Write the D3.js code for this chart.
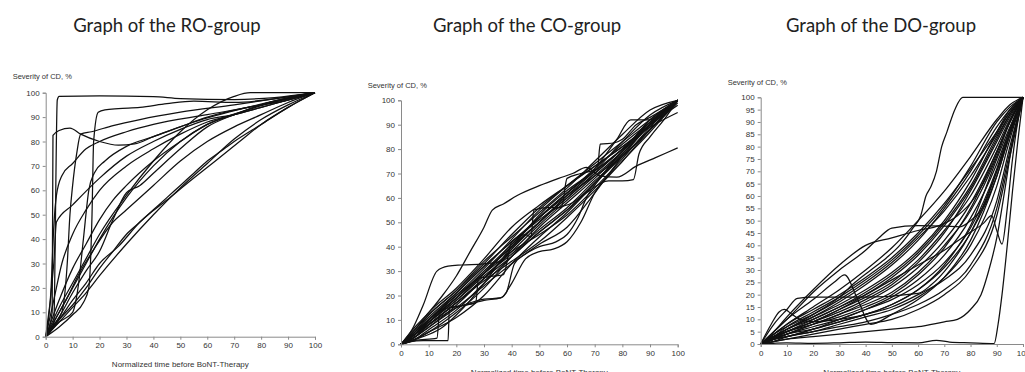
<!DOCTYPE html>
<html>
<head>
<meta charset="utf-8">
<script src="https://cdn.jsdelivr.net/npm/d3@7"></script>
<style>
html,body{margin:0;padding:0;background:#fff;}
svg{display:block;}
</style>
</head>
<body>
<svg id="chart" width="1025" height="372"></svg>
<script>
// ---------- DATA ----------
const titles = ["Graph of the RO-group", "Graph of the CO-group", "Graph of the DO-group"];
const yAxisTitle = "Severity of CD, %";
const xAxisTitle = "Normalized time before BoNT-Therapy";
const xTicks = [0,10,20,30,40,50,60,70,80,90,100];
const yTicksRO = [0,10,20,30,40,50,60,70,80,90,100];
const yTicksCO = [0,10,20,30,40,50,60,70,80,90,100];
const yTicksDO = [0,5,10,15,20,25,30,35,40,45,50,55,60,65,70,75,80,85,90,95,100];

// RO-group curves: [time, severity] pairs
const roSeries = [
  [[0,0],[3,5],[4.3,97],[5,98.5],[20,98.7],[40,98.4],[50,97.6],[70,97.2],[85,98],[100,100]],
  [[0,0],[2.4,10],[2.7,82.5],[5,84.5],[9,85.5],[13,83],[20,80],[27,78.5],[33,79],[40,82],[50,86],[60,90],[75,94],[90,97],[100,100]],
  [[0,0],[5,4],[10,9],[14,14],[16,20],[17.2,50],[17.8,80],[19.5,92],[22,93],[27,93.5],[35,94],[45,95.5],[55,96.5],[70,96],[85,97.5],[100,100]],
  [[0,0],[3,30],[4,47],[10,54],[20,65],[30,74],[40,80],[50,85],[60,89],[70,91],[80,94],[90,97],[100,100]],
  [[0,0],[2,20],[3,45],[4,58],[6,66],[10,71],[15,77],[20,80],[30,84],[40,87],[60,91],[80,95],[100,100]],
  [[0,0],[3,5],[6,10],[8,30],[9,50],[10,62],[11.5,75],[13,83],[17,84],[25,86.5],[35,89],[50,92],[70,95],[100,100]],
  [[0,0],[5,6],[10,10],[12,20],[14,40],[16,60],[18,67],[22,72],[30,78],[40,82],[55,88],[75,94],[100,100]],
  [[0,0],[3,15],[6,30],[10,42],[15,52],[20,60],[30,70],[40,77],[50,83],[60,88],[70,91],[80,94],[90,97],[100,100]],
  [[0,0],[5,15],[10,28],[15,38],[20,48],[25,56],[30,62],[40,72],[50,80],[60,87],[70,91],[80,95],[100,100]],
  [[0,0],[5,8],[10,18],[15,27],[20,35],[25,48],[30,59],[35,62],[40,67],[50,77],[60,86],[70,91],[80,95],[100,100]],
  [[0,0],[5,10],[10,20],[15,30],[20,40],[25,49],[30,57],[40,70],[50,80],[60,87],[75,93],[100,100]],
  [[0,0],[5,7],[10,13],[15,20],[20,28],[25,35],[30,42],[35,47],[40,52],[45,57],[50,62],[55,67],[60,72],[65,76],[70,80],[80,87],[90,94],[100,100]],
  [[0,0],[5,6],[10,12],[15,18],[20,25],[30,38],[40,50],[50,61],[60,71],[70,81],[80,89],[90,95],[100,100]],
  [[0,0],[5,7],[10,15],[15,22],[20,30],[27,37],[35,47],[45,56],[55,65],[63,72],[72,80],[80,87],[90,94],[100,100]],
  [[0,0],[4,8],[8,16],[12,25],[18,36],[25,47],[30,52],[40,62],[50,72],[60,80],[70,86],[80,91],[90,96],[100,100]],
  [[0,0],[5,12],[10,22],[15,32],[20,42],[30,58],[40,72],[50,84],[60,93],[70,98.5],[76,100],[90,100],[100,100]]
];

// CO-group: curves sampled on a shared time grid
const coGridX = [0,5,10,20,30,40,50,60,70,80,90,100];
const coGrid = [
  [0,4,9,19,30,41,52,62,72,82,91,100],
  [0,5,10,20,31,43,55,65,74,83,92,100],
  [0,3,7,16,27,38,49,59,69,79,90,100],
  [0,4,9,18,28,37,47,56,67,77,88,100],
  [0,6,12,22,33,45,56,65,73,81,90,98],
  [0,2,6,14,25,36,46,55,66,78,90,100],
  [0,5,11,21,32,42,51,60,70,80,90,100],
  [0,3,8,17,26,34,42,52,63,75,88,100],
  [0,4,10,20,29,38,45,53,64,76,89,100],
  [0,6,13,23,35,48,57,65,73,81,89,95],
  [0,3,7,15,24,33,41,48,62,77,90,100],
  [0,5,10,19,30,40,53,63,71,80,91,100],
  [0,2,5,13,23,36,48,58,68,79,92,100],
  [0,4,8,17,27,39,50,61,71,83,94,100],
  [0,3,9,19,29,41,52,61,69,77,88,99],
  [0,5,12,22,34,44,54,64,75,86,96,100],
  [0,2,5,11,20,33,44,54,66,79,91,100],
  [0,4,9,18,29,40,50,60,70,80,90,100]
];
// CO-group: irregular curves as [time, severity] pairs
const coSpecial = [
  [[0,0],[5,7],[10,13],[15,20],[20,28],[25,38],[30,48],[33,55],[37,57.5],[42,61],[50,65],[57,68],[62,70],[67,72.5],[72,69],[78,68.5],[85,73],[92,76.5],[100,80.5]],
  [[0,0],[4,6],[8,16],[13,30],[17,32],[22,32.5],[30,33],[36,34],[40,39],[45,45],[50,50],[55,55],[62,58],[70,66],[80,77],[90,88],[100,100]],
  [[0,0],[3,1],[8,1.5],[17,1.5],[17.5,15],[23,16],[30,18],[36,19],[38,21],[41,33],[45,37],[50,40],[56,42],[60,45],[64,52],[67,60],[72,68],[80,78],[90,90],[100,100]],
  [[0,0],[5,1.5],[13,2.5],[14,14],[18,15],[23,16],[27,17],[28,27],[34,28],[37,28.5],[40,42],[45,45],[47,44],[48,55],[53,56],[58,56],[60,68],[65,70],[71,72],[72,82],[77,82.5],[80,84],[85,90],[90,93],[100,100]],
  [[0,0],[5,3],[10,8],[20,17],[30,27],[40,36],[50,46],[60,55],[67,62],[75,67],[80,67],[84,67.5],[86,78],[90,85],[95,92],[100,100]],
  [[0,0],[5,4],[10,10],[20,21],[30,32],[40,42],[50,52],[60,62],[70,72],[78,84],[83,92],[90,92],[95,96],[100,100]],
  [[0,0],[5,2],[10,4],[15,7],[20,12],[25,18],[30,25],[40,40],[50,52],[60,62],[70,71],[80,80],[90,90],[100,100]],
  [[0,0],[10,8],[20,15],[25,17],[30,18.5],[36,19],[40,25],[45,35],[50,38],[55,39],[60,42],[65,50],[70,62],[80,75],[90,87],[100,100]]
];

// DO-group: curves sampled on a shared time grid
const doGridX = [0,5,10,20,30,40,50,60,70,80,90,95,100];
const doGrid = [
  [0,3,6,11,17,24,32,42,55,70,88,95,100],
  [0,2,4,8,12,17,23,31,42,57,78,90,100],
  [0,3,5,9,13,18,24,33,45,62,82,92,100],
  [0,2,4,7,10,14,19,26,36,51,73,87,100],
  [0,4,8,14,20,27,35,45,57,71,86,94,100],
  [0,2,3,6,9,12,16,22,31,45,68,85,100],
  [0,3,6,10,15,21,28,37,49,64,84,93,100],
  [0,1,3,5,8,11,14,19,27,40,64,83,100],
  [0,2,5,9,14,20,27,36,48,63,83,93,100],
  [0,3,5,8,11,15,20,28,39,55,78,90,100],
  [0,4,7,12,18,25,33,43,54,68,85,94,100],
  [0,2,4,6,9,12,15,20,26,36,58,80,100],
  [0,3,6,11,16,22,29,38,50,66,86,95,100],
  [0,2,3,5,7,9,12,16,22,32,55,78,100],
  [0,3,7,13,19,26,34,44,56,72,90,96,100],
  [0,2,4,8,12,16,21,29,40,54,76,90,100],
  [0,1,2,4,6,8,10,14,20,30,52,76,100],
  [0,4,8,15,22,30,39,50,62,76,91,97,100],
  [0,3,5,9,14,19,25,34,46,60,80,91,100],
  [0,2,3,6,10,14,18,24,33,47,71,87,100]
];
// DO-group: irregular curves as [time, severity] pairs
const doSpecial = [
  [[0,0],[5,3],[10,6],[20,12],[30,19],[36,25],[42,30],[48,35],[53,40],[58,47],[61,52],[63,60],[65,64],[67,70],[69,80],[71,86],[74,95],[77,100],[100,100]],
  [[0,0],[10,0.5],[20,0.3],[30,0.5],[40,0.8],[50,0.6],[60,0.5],[67,1.5],[72,0.8],[80,0.5],[89,0.2],[90.5,8],[92,20],[94,40],[96,62],[98,82],[100,100]],
  [[0,0],[10,5],[20,10],[30,15],[40,20],[50,26],[60,32],[70,38],[78,44],[85,49],[88,52],[90,46],[92,40.5],[94,55],[96,75],[98,90],[100,100]],
  [[0,0],[5,5],[10,10],[20,18],[28,25],[32,28],[37,18],[42,8],[50,12],[60,18],[70,27],[80,42],[90,68],[95,85],[100,100]],
  [[0,0],[5,5],[10,10],[20,21],[30,30],[40,38],[45,43],[50,47],[60,48],[70,47.8],[76,47.5],[80,50],[85,56],[90,70],[95,86],[100,100]],
  [[0,0],[5,5],[10,11],[20,22],[30,32],[40,40],[50,43],[60,46],[68,48],[75,52],[82,60],[88,72],[94,88],[100,100]],
  [[0,0],[4,8],[7,13],[9,14],[12,12],[15,10],[20,9],[30,10],[40,12],[50,16],[60,22],[70,32],[80,48],[90,75],[95,88],[100,100]],
  [[0,0],[5,8],[10,14],[14,18.5],[20,19],[40,19],[60,20.5],[65,24],[72,32],[80,45],[90,70],[95,85],[100,100]],
  [[0,0],[10,2],[20,3],[30,4],[40,5],[50,6],[60,7],[70,9],[75,10],[80,14],[84,20],[87,30],[90,43],[93,62],[96,82],[100,100]]
];

// ---------- BUILD ----------
const gridToPairs = (xs, rows) => rows.map(r => r.map((v, i) => [xs[i], v]));
const roLines = roSeries;
const coLines = gridToPairs(coGridX, coGrid).concat(coSpecial);
const doLines = gridToPairs(doGridX, doGrid).concat(doSpecial);

const panels = [
  {title: titles[0], lines: roLines, yTicks: yTicksRO, x0: 45.7, x1: 315, y0: 336.7, y1: 92.7,
   titleX: 167, yTitleX: 12.7, yTitleY: 79, xTitleY: 367},
  {title: titles[1], lines: coLines, yTicks: yTicksCO, x0: 401, x1: 677.7, y0: 344.3, y1: 100.3,
   titleX: 527, yTitleX: 367.7, yTitleY: 88, xTitleY: 375},
  {title: titles[2], lines: doLines, yTicks: yTicksDO, x0: 760.7, x1: 1023, y0: 344, y1: 97.3,
   titleX: 881, yTitleX: 727.7, yTitleY: 84.5, xTitleY: 375}
];

const svg = d3.select("#chart");
const axisColor = "#8a8a8a";
const textColor = "#333";

panels.forEach(p => {
  const x = d3.scaleLinear().domain([0,100]).range([p.x0, p.x1]);
  const y = d3.scaleLinear().domain([0,100]).range([p.y0, p.y1]);
  const g = svg.append("g");

  // title
  g.append("text")
    .attr("x", p.titleX).attr("y", 32)
    .attr("text-anchor", "middle")
    .attr("font-family", "Lato, 'Open Sans', sans-serif")
    .attr("font-size", 18.5)
    .attr("fill", "#222")
    .text(p.title);

  // y-axis title
  g.append("text")
    .attr("x", p.yTitleX).attr("y", p.yTitleY)
    .attr("font-family", "'Liberation Sans', Arial, sans-serif")
    .attr("font-size", 7.5)
    .attr("fill", textColor)
    .text(yAxisTitle);

  // x-axis title
  g.append("text")
    .attr("x", (p.x0 + p.x1) / 2).attr("y", p.xTitleY)
    .attr("text-anchor", "middle")
    .attr("font-family", "'Liberation Sans', Arial, sans-serif")
    .attr("font-size", 8)
    .attr("fill", textColor)
    .text(xAxisTitle);

  // lines
  const line = d3.line().x(d => x(d[0])).y(d => y(d[1])).curve(d3.curveMonotoneX);
  g.append("g").selectAll("path").data(p.lines).join("path")
    .attr("d", line)
    .attr("fill", "none")
    .attr("stroke", "#111")
    .attr("stroke-width", 1.25)
    .attr("stroke-linejoin", "round");

  // axes
  const xa = g.append("g").attr("transform", `translate(0,${p.y0})`)
    .call(d3.axisBottom(x).tickValues(xTicks).tickSize(3).tickPadding(3).tickFormat(d3.format("d")));
  const ya = g.append("g").attr("transform", `translate(${p.x0},0)`)
    .call(d3.axisLeft(y).tickValues(p.yTicks).tickSize(3).tickPadding(3).tickFormat(d3.format("d")));
  [xa, ya].forEach(a => {
    a.select(".domain").attr("stroke", axisColor).attr("stroke-width", 1);
    a.selectAll(".tick line").attr("stroke", axisColor);
    a.selectAll(".tick text")
      .attr("fill", textColor)
      .attr("font-family", "'Liberation Sans', Arial, sans-serif")
      .attr("font-size", 8);
  });
});
</script>
</body>
</html>
